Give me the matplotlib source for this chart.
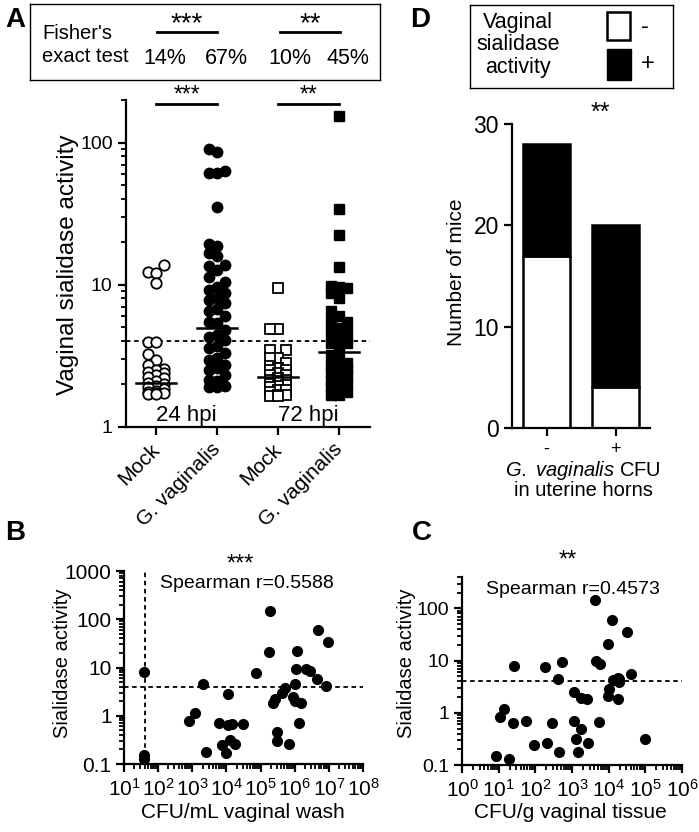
import numpy as np
import matplotlib
matplotlib.use("Agg")
import matplotlib.pyplot as plt
from matplotlib.patches import Rectangle
from matplotlib.transforms import offset_copy
from matplotlib.ticker import LogLocator, NullFormatter, FuncFormatter, FixedLocator

plt.rcParams['font.family'] = ['Liberation Sans', 'DejaVu Sans']
plt.rcParams['mathtext.fontset'] = 'custom'
plt.rcParams['mathtext.rm'] = 'Liberation Sans'
plt.rcParams['mathtext.it'] = 'Liberation Sans:italic'
plt.rcParams['axes.linewidth'] = 1.6

# ---- panel A: vaginal sialidase activity per mouse ----
groups = ['Mock', 'G. vaginalis', 'Mock', 'G. vaginalis']
mock24 = [13.8, 12.2, 12.1, 10.2, 3.98, 3.95, 3.27, 2.96, 2.74, 2.55, 2.5, 2.45, 2.4,
          2.3, 2.25, 2.2, 2.1, 2.05, 2.0, 1.95, 1.9, 1.85, 1.8, 1.75, 1.72, 1.72, 1.7, 1.7]
gv24 = [90.7, 86, 63, 61, 61, 35, 19.3, 18.6, 16.7, 15.8, 13.5, 13.8, 12.7, 11.4, 10.5,
        9.7, 9.2, 8.7, 8.1, 7.8, 7.4, 6.7, 6.5, 6.0, 5.5, 5.4, 4.8, 4.45, 4.3, 4.1,
        3.7, 3.6, 3.3, 3.05, 2.97, 2.73, 2.59, 2.52, 2.32, 2.14, 2.09, 1.92, 1.95, 1.92]
mock72 = [9.5, 4.9, 4.9, 3.5, 3.45, 3.05, 3.05, 2.8, 2.7, 2.6, 2.52, 2.52, 2.4, 2.32, 2.3,
          2.2, 2.14, 2.14, 2.1, 2.0, 1.98, 1.95, 1.9, 1.82, 1.82, 1.75, 1.68, 1.68, 1.66, 1.65]
gv72 = [153, 34, 22.5, 13.3, 9.7, 9.5, 9.8, 8.8, 8.1, 6.5, 6.0, 5.5, 5.5, 4.95, 4.57,
        4.57, 4.2, 3.88, 3.88, 3.58, 3.2, 3.0, 2.8, 2.73, 2.6, 2.55, 2.39, 2.39, 2.3,
        2.2, 2.1, 2.03, 2.03, 1.9, 1.87, 1.75, 1.68, 1.68]
center_lines = [2.05, 4.95, 2.25, 3.35]
cutoff = 4
fisher_pct = ['14%', '67%', '10%', '45%']
stars_a = ['***', '**']
time_labels = ['24 hpi', '72 hpi']

# ---- panel B: CFU/mL vaginal wash vs sialidase ----
b_cfu = [39, 39, 39, 776, 1180, 2000, 2500, 5900, 7500, 1.0e4, 1.12e4, 1.12e4, 1.45e4,
         1.3e4, 1.75e4, 3.05e4, 7.2e4, 1.87e5, 1.72e5, 2.3e5, 2.7e5, 3.0e5, 3.1e5, 4.3e5,
         5.3e5, 7.0e5, 8.7e5, 1.0e6, 1.03e6, 1.1e6, 1.2e6, 1.3e6, 1.55e6, 2.2e6, 2.8e6,
         4.6e6, 4.9e6, 8.3e6, 9.5e6]
b_sial = [7.9, 0.155, 0.13, 0.79, 1.15, 4.5, 0.18, 0.72, 0.25, 0.17, 2.8, 0.64, 0.69,
          0.32, 0.26, 0.66, 7.6, 151, 20.6, 1.87, 2.2, 0.47, 0.30, 3.0, 3.7, 0.26, 2.5,
          2.0, 4.6, 9.3, 22, 0.7, 1.87, 9.3, 8.6, 5.8, 59, 4.2, 34.5]
b_lod = 40
b_stars = '***'
b_r = 'Spearman r=0.5588'

# ---- panel C: CFU/g vaginal tissue vs sialidase ----
c_cfu = [8.3, 19, 11, 14, 25, 26, 55, 90, 180, 205, 280, 410, 445, 525, 1130, 1150,
         1260, 1500, 1780, 1770, 2500, 2800, 4270, 4600, 5800, 5450, 9600, 1.0e4, 9600,
         1.26e4, 1.3e4, 1.8e4, 1.9e4, 1.8e4, 3.16e4, 4.15e4, 9.8e4, 1.95e4]
c_sial = [0.15, 0.13, 0.82, 1.19, 0.65, 7.9, 0.71, 0.245, 7.7, 0.26, 0.65, 4.5, 0.18,
          9.3, 0.69, 2.46, 0.31, 0.18, 0.48, 1.94, 1.87, 0.26, 148, 9.8, 8.7, 0.68, 21,
          2.9, 2.1, 59, 4.3, 4.7, 3.9, 1.8, 35, 5.6, 0.31, 4.4]
c_stars = '**'
c_r = 'Spearman r=0.4573'

# ---- panel D: mice by uterine CFU ----
d_cats = ['-', '+']
d_neg = [17, 4]
d_pos = [11, 16]
d_stars = '**'


def swarm(vals, step_px, px_unit, px_decade, diam=10.0):
    vals = np.asarray(vals, float)
    ypx = np.log10(vals) * px_decade
    offs = np.zeros(len(vals))
    done = []
    for i in np.argsort(vals):
        best, best_d = 0, -1.0
        for c in (0, -1, 1):
            x = c * step_px
            d = min([np.hypot(x - px, ypx[i] - py) for px, py in done], default=1e9)
            if d >= diam:
                best = c
                break
            if d > best_d:
                best, best_d = c, d
        done.append((best * step_px, ypx[i]))
        offs[i] = best * step_px / px_unit
    return offs


def log_label(v, _):
    return f'{v:g}'


fig = plt.figure(figsize=(6.99, 8.32), dpi=100)

# ================= A =================
axA = fig.add_axes([0.180, 0.487, 0.349, 0.393])
axA.set_yscale('log')
axA.set_ylim(1, 200)
axA.set_xlim(-0.5, 3.5)
series = [mock24, gv24, mock72, gv72]
styles = [dict(marker='o', mfc='white', mec='black', mew=1.3, ms=7.5),
          dict(marker='o', mfc='black', mec='black', ms=7.5),
          dict(marker='s', mfc='white', mec='black', mew=1.3, ms=6.5),
          dict(marker='s', mfc='black', mec='black', ms=6.5)]
for k, (vals, st) in enumerate(zip(series, styles)):
    off = swarm(vals, 8.0, 61.0, 142.0)
    axA.plot(k + off, vals, ls='none', **st, clip_on=False, zorder=3)
    axA.plot([k - 0.33, k + 0.33], [center_lines[k]] * 2, color='black', lw=1.8, zorder=4)
axA.axhline(cutoff, color='black', ls=(0, (2.5, 2)), lw=1.3, zorder=2)
star_tr = offset_copy(axA.transData, fig=fig, x=0, y=2, units='dots')
for j, s in enumerate(stars_a):
    x0, x1 = 2 * j, 2 * j + 1
    axA.plot([x0, x1], [187, 187], color='black', lw=2, clip_on=False)
    axA.text((x0 + x1) / 2, 187, s, transform=star_tr, ha='center', va='baseline',
             fontsize=16.5, clip_on=False)
for j, t in enumerate(time_labels):
    axA.text(2 * j + 0.5, 0.018, t, transform=axA.get_xaxis_transform(),
             ha='center', va='baseline', fontsize=16)
axA.spines['top'].set_visible(False)
axA.spines['right'].set_visible(False)
axA.set_xticks(range(4))
axA.set_xticklabels(groups, rotation=45, ha='right', va='center', rotation_mode='anchor',
                    fontsize=15)
axA.tick_params(axis='x', length=6, width=1.6, pad=8)
axA.yaxis.set_major_locator(FixedLocator([1, 10, 100]))
axA.yaxis.set_major_formatter(FuncFormatter(log_label))
axA.yaxis.set_minor_locator(LogLocator(base=10, subs=np.arange(2, 10)))
axA.yaxis.set_minor_formatter(NullFormatter())
axA.tick_params(axis='y', which='major', length=6, width=1.6, labelsize=14)
axA.tick_params(axis='y', which='minor', length=3.5, width=1.3)
fig.text(68 / 699, 1 - 265 / 832, 'Vaginal sialidase activity', rotation=90,
         ha='center', va='center', fontsize=17.5)

# Fisher box
axF = fig.add_axes([30 / 699, 1 - 80 / 832, 350 / 699, 76 / 832])
axF.set_xlim(0, 350)
axF.set_ylim(76, 0)
axF.set_xticks([])
axF.set_yticks([])
for sp in axF.spines.values():
    sp.set_linewidth(1.0)
axF.text(12, 41, "Fisher's\nexact test", ha='left', va='center', fontsize=14.5, linespacing=1.25)
for x, p in zip([135, 196, 260, 318], fisher_pct):
    axF.text(x, 54, p, ha='center', va='center', fontsize=15.5)
for (xa, xb), s in zip([(127, 187), (250, 310)], stars_a):
    axF.plot([xa, xb], [28, 28], color='black', lw=2)
    axF.text((xa + xb) / 2, 27, s, ha='center', va='baseline', fontsize=20)

# ================= D =================
axD = fig.add_axes([0.7325, 0.4856, 0.1974, 0.3654])
xd = np.arange(len(d_cats))
axD.bar(xd, d_neg, width=0.69, color='white', edgecolor='black', lw=1.8)
axD.bar(xd, d_pos, width=0.69, bottom=d_neg, color='black', edgecolor='black', lw=1.8)
axD.set_xlim(-0.5, 1.5)
axD.set_ylim(0, 30)
axD.set_yticks([0, 10, 20, 30])
axD.set_xticks(xd)
axD.set_xticklabels(d_cats)
axD.spines['top'].set_visible(False)
axD.spines['right'].set_visible(False)
axD.tick_params(axis='both', length=6, width=1.6)
axD.tick_params(axis='y', labelsize=16.5)
axD.tick_params(axis='x', labelsize=13)
axD.text(0.64, 1.013, d_stars, transform=axD.transAxes, ha='center', va='baseline',
         fontsize=18)
fig.text(457 / 699, 1 - 272 / 832, 'Number of mice', rotation=90, ha='center', va='center',
         fontsize=15)
fig.text(583 / 699, 1 - 470 / 832, r'$\mathit{G.}$ $\mathit{vaginalis}$ CFU', ha='center',
         va='center', fontsize=14.5)
fig.text(583 / 699, 1 - 490 / 832, 'in uterine horns', ha='center', va='center', fontsize=14.5)

# legend box for D
axL = fig.add_axes([470 / 699, 1 - 88 / 832, 203 / 699, 83 / 832])
axL.set_xlim(0, 203)
axL.set_ylim(83, 0)
axL.set_xticks([])
axL.set_yticks([])
for sp in axL.spines.values():
    sp.set_linewidth(1.0)
axL.text(48, 40, 'Vaginal\nsialidase\nactivity', ha='center', va='center', fontsize=15.5,
         linespacing=1.08)
axL.add_patch(Rectangle((137, 7), 23, 28, facecolor='white', edgecolor='black', lw=1.8))
axL.add_patch(Rectangle((137, 44), 24, 31, facecolor='black', edgecolor='black', lw=1))
axL.text(175, 22, '-', ha='center', va='center', fontsize=17)
axL.text(178, 59, '+', ha='center', va='center', fontsize=17)


# ================= B and C =================
def scatter_panel(ax, xs, ys, xlim, ylim, yticks, ysize):
    ax.plot(xs, ys, 'o', color='black', ms=7, clip_on=False, zorder=3)
    ax.set_xscale('log')
    ax.set_yscale('log')
    ax.set_xlim(*xlim)
    ax.set_ylim(*ylim)
    ax.axhline(cutoff, color='black', ls=(0, (2.5, 2)), lw=1.3)
    ax.spines['top'].set_visible(False)
    ax.spines['right'].set_visible(False)
    lo, hi = int(np.log10(xlim[0])), int(np.log10(xlim[1]))
    ax.xaxis.set_major_locator(FixedLocator([10.0 ** k for k in range(lo, hi + 1)]))
    ax.xaxis.set_major_formatter(FuncFormatter(lambda v, _: r'$10^{%d}$' % round(np.log10(v))))
    ax.yaxis.set_major_locator(FixedLocator(yticks))
    ax.yaxis.set_major_formatter(FuncFormatter(log_label))
    for a in (ax.xaxis, ax.yaxis):
        a.set_minor_locator(LogLocator(base=10, subs=np.arange(2, 10), numticks=20))
        a.set_minor_formatter(NullFormatter())
    ax.tick_params(which='major', length=6, width=1.6, labelsize=15)
    ax.tick_params(axis='y', labelsize=ysize, pad=3)
    ax.tick_params(axis='x', pad=4)
    ax.tick_params(which='minor', length=3.5, width=1.3)


axB = fig.add_axes([0.1774, 0.0817, 0.342, 0.232])
scatter_panel(axB, b_cfu, b_sial, (10, 1e8), (0.1, 1000), [0.1, 1, 10, 100, 1000], 15)
axB.axvline(b_lod, color='black', ls=(0, (2.5, 2)), lw=1.3)
axB.text(0.485, 1.005, b_stars, transform=axB.transAxes, ha='center', va='baseline',
         fontsize=17)
axB.text(0.515, 0.935, b_r, transform=axB.transAxes, ha='center', va='center', fontsize=14)
fig.text(63 / 699, 1 - 663 / 832, 'Sialidase activity', rotation=90, ha='center', va='center',
         fontsize=14.5)
fig.text(243 / 699, 1 - 813 / 832, 'CFU/mL vaginal wash', ha='center', va='center', fontsize=15)

axC = fig.add_axes([0.661, 0.0805, 0.3147, 0.226])
scatter_panel(axC, c_cfu, c_sial, (1, 1e6), (0.1, 400), [0.1, 1, 10, 100], 14)
axC.text(0.48, 1.053, c_stars, transform=axC.transAxes, ha='center', va='baseline',
         fontsize=17)
axC.text(0.505, 0.936, c_r, transform=axC.transAxes, ha='center', va='center', fontsize=14)
fig.text(407 / 699, 1 - 663 / 832, 'Sialidase activity', rotation=90, ha='center', va='center',
         fontsize=14.5)
fig.text(570 / 699, 1 - 812 / 832, 'CFU/g vaginal tissue', ha='center', va='center', fontsize=15)

# panel letters
for x, y, lab in [(15, 20, 'A'), (420, 20, 'D'), (15, 533, 'B'), (422, 533, 'C')]:
    fig.text(x / 699, 1 - y / 832, lab, ha='center', va='center', fontsize=20,
             fontweight='bold')

fig.savefig('out.png', dpi=100)
